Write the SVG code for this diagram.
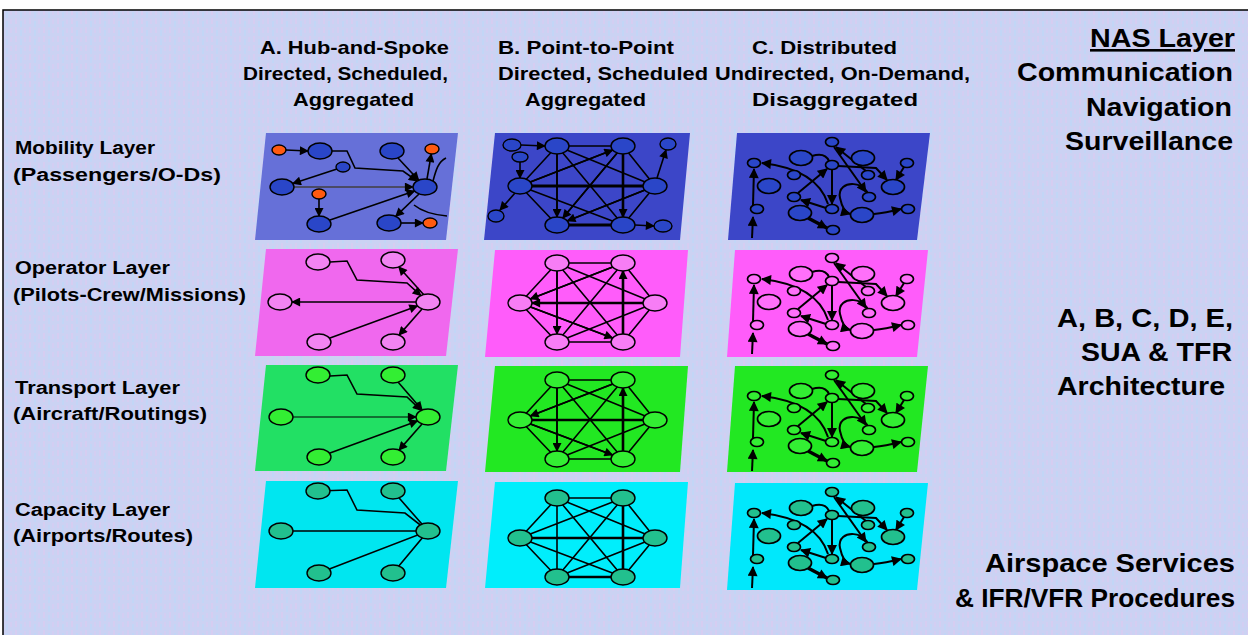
<svg xmlns="http://www.w3.org/2000/svg" xmlns:xlink="http://www.w3.org/1999/xlink" width="1248" height="635" viewBox="0 0 1248 635">
<style>
.hdr{font-family:"Liberation Sans",Arial,sans-serif;font-size:19px;font-weight:bold;fill:#000}
.row{font-family:"Liberation Sans",Arial,sans-serif;font-size:18px;font-weight:bold;fill:#000}
.big{font-family:"Liberation Sans",Arial,sans-serif;font-size:26px;font-weight:bold;fill:#000}
.e{fill:none;stroke:#000;stroke-width:1.6}
.a{fill:none;stroke:#000;stroke-width:1.6;marker-end:url(#ah)}
.ca{fill:none;stroke:#000;stroke-width:2;marker-end:url(#ahc)}
.ce{fill:none;stroke:#000;stroke-width:2}
.n{stroke:#000;stroke-width:1.4}
.cn{stroke:#000;stroke-width:1.7}
</style>
<defs>
<marker id="ah" viewBox="0 0 10 10" refX="9" refY="5" markerWidth="10" markerHeight="9" markerUnits="userSpaceOnUse" orient="auto"><path d="M0,0 L10,5 L0,10 z" fill="#000"/></marker>
<marker id="ahc" viewBox="0 0 10 10" refX="9" refY="5" markerWidth="11" markerHeight="10" markerUnits="userSpaceOnUse" orient="auto"><path d="M0,0 L10,5 L0,10 z" fill="#000"/></marker>
<pattern id="tex" width="14" height="9" patternUnits="userSpaceOnUse">
<rect width="14" height="9" fill="#cbd2f3"/>
<rect x="1" y="0" width="2" height="6" fill="#d6cdf1"/>
<rect x="6" y="3" width="2" height="6" fill="#c2d6f6"/>
<rect x="10" y="1" width="2" height="5" fill="#d3cef2"/>
</pattern>
<g id="k6">
<path class="e" d="M557,146 L623,146 M557,146 L520,186 M557,146 L655,186 M557,146 L557,225 M557,146 L623,225 M623,146 L520,186 M623,146 L655,186 M623,146 L557,225 M623,146 L623,225 M520,186 L655,186 M520,186 L557,225 M520,186 L623,225 M655,186 L557,225 M655,186 L623,225 M557,225 L623,225"/>
</g>
<g id="k6n">
<ellipse class="n" cx="557" cy="146" rx="12" ry="8"/>
<ellipse class="n" cx="623" cy="146" rx="12" ry="8"/>
<ellipse class="n" cx="520" cy="186" rx="12" ry="8"/>
<ellipse class="n" cx="655" cy="186" rx="12" ry="8"/>
<ellipse class="n" cx="557" cy="225" rx="12" ry="8"/>
<ellipse class="n" cx="623" cy="225" rx="12" ry="8"/>
</g>
<g id="cedges">
<path class="ca" d="M752,238 L753,217"/>
<path class="ca" d="M753,205 L754,169"/>
<path class="ca" d="M828,204 C822,185 805,168 762,163"/>
<path class="ce" d="M812,156 Q825,152 829,161"/>
<path class="ca" d="M832,170 L832,204"/>
<path class="ca" d="M798,193 L827,169"/>
<path class="ca" d="M866,171 L836,147"/>
<path class="ca" d="M834,147 L866,192"/>
<path class="ca" d="M838,166 L876,168 L887,180"/>
<path class="ca" d="M904,167 L896,180"/>
<path class="ca" d="M826,208 L801,200"/>
<path class="ca" d="M869,201 C871,180 836,178 840,198 Q843,212 850,214"/>
<path class="ca" d="M874,214 Q885,213 901,209"/>
<path class="ca" d="M808,218 L827,228" style="stroke-width:3.5"/>
</g>
<g id="cnodes">
<ellipse class="cn" cx="801" cy="158" rx="11.5" ry="7.5"/>
<ellipse class="cn" cx="863" cy="158" rx="11.5" ry="7.5"/>
<ellipse class="cn" cx="769" cy="186" rx="11.5" ry="7.5"/>
<ellipse class="cn" cx="893" cy="187" rx="11.5" ry="7.5"/>
<ellipse class="cn" cx="800" cy="213" rx="11.5" ry="7.5"/>
<ellipse class="cn" cx="862" cy="215" rx="11.5" ry="7.5"/>
<ellipse class="cn" cx="832" cy="142" rx="6.5" ry="4.5"/>
<ellipse class="cn" cx="754" cy="163" rx="6.5" ry="4.5"/>
<ellipse class="cn" cx="832" cy="165" rx="6.5" ry="4.5"/>
<ellipse class="cn" cx="907" cy="163" rx="6.5" ry="4.5"/>
<ellipse class="cn" cx="794" cy="175" rx="6.5" ry="4.5"/>
<ellipse class="cn" cx="868" cy="175" rx="6.5" ry="4.5"/>
<ellipse class="cn" cx="869" cy="197" rx="6.5" ry="4.5"/>
<ellipse class="cn" cx="794" cy="197" rx="6.5" ry="4.5"/>
<ellipse class="cn" cx="757" cy="209" rx="6.5" ry="4.5"/>
<ellipse class="cn" cx="832" cy="209" rx="6.5" ry="4.5"/>
<ellipse class="cn" cx="908" cy="209" rx="6.5" ry="4.5"/>
<ellipse class="cn" cx="833" cy="230" rx="6.5" ry="4.5"/>
</g>
</defs>

<rect width="1248" height="635" fill="#ffffff"/>
<rect x="3" y="10" width="1245" height="625" fill="url(#tex)"/>
<path d="M3,635 L3,10 L1248,10" fill="none" stroke="#000" stroke-width="1.5"/>

<g id="headers">
<text class="hdr" x="260" y="54" textLength="189" lengthAdjust="spacingAndGlyphs">A. Hub-and-Spoke</text>
<text class="hdr" x="243" y="80" textLength="205" lengthAdjust="spacingAndGlyphs">Directed, Scheduled,</text>
<text class="hdr" x="293" y="106" textLength="121" lengthAdjust="spacingAndGlyphs">Aggregated</text>
<text class="hdr" x="498" y="54" textLength="176" lengthAdjust="spacingAndGlyphs">B. Point-to-Point</text>
<text class="hdr" x="498" y="80" textLength="210" lengthAdjust="spacingAndGlyphs">Directed, Scheduled</text>
<text class="hdr" x="525" y="106" textLength="121" lengthAdjust="spacingAndGlyphs">Aggregated</text>
<text class="hdr" x="752" y="54" textLength="145" lengthAdjust="spacingAndGlyphs">C. Distributed</text>
<text class="hdr" x="715" y="80" textLength="255" lengthAdjust="spacingAndGlyphs">Undirected, On-Demand,</text>
<text class="hdr" x="752" y="106" textLength="166" lengthAdjust="spacingAndGlyphs">Disaggregated</text>
</g>

<g id="row-labels">
<text class="row" x="15" y="154" textLength="140" lengthAdjust="spacingAndGlyphs">Mobility Layer</text>
<text class="row" x="13" y="181" textLength="208" lengthAdjust="spacingAndGlyphs">(Passengers/O-Ds)</text>
<text class="row" x="15" y="274" textLength="155" lengthAdjust="spacingAndGlyphs">Operator Layer</text>
<text class="row" x="13" y="301" textLength="233" lengthAdjust="spacingAndGlyphs">(Pilots-Crew/Missions)</text>
<text class="row" x="15" y="394" textLength="165" lengthAdjust="spacingAndGlyphs">Transport Layer</text>
<text class="row" x="13" y="420" textLength="194" lengthAdjust="spacingAndGlyphs">(Aircraft/Routings)</text>
<text class="row" x="15" y="516" textLength="155" lengthAdjust="spacingAndGlyphs">Capacity Layer</text>
<text class="row" x="13" y="542" textLength="180" lengthAdjust="spacingAndGlyphs">(Airports/Routes)</text>
</g>

<g id="right-labels">
<text class="big" x="1090" y="47" textLength="145" lengthAdjust="spacingAndGlyphs" text-decoration="underline">NAS Layer</text>
<text class="big" x="1017" y="81" textLength="216" lengthAdjust="spacingAndGlyphs">Communication</text>
<text class="big" x="1086" y="116" textLength="146" lengthAdjust="spacingAndGlyphs">Navigation</text>
<text class="big" x="1065" y="150" textLength="168" lengthAdjust="spacingAndGlyphs">Surveillance</text>
<text class="big" x="1057" y="327" textLength="176" lengthAdjust="spacingAndGlyphs">A, B, C, D, E,</text>
<text class="big" x="1081" y="361" textLength="151" lengthAdjust="spacingAndGlyphs">SUA &amp; TFR</text>
<text class="big" x="1057" y="395" textLength="168" lengthAdjust="spacingAndGlyphs">Architecture</text>
<text class="big" x="985" y="572" textLength="250" lengthAdjust="spacingAndGlyphs">Airspace Services</text>
<text class="big" x="955" y="607" textLength="280" lengthAdjust="spacingAndGlyphs">&amp; IFR/VFR Procedures</text>
</g>

<!-- Mobility row -->
<g id="mobility-A">
<polygon points="266,133 458,133 446,240 255,240" fill="#6670d8"/>
<path class="a" d="M286,150 L308,151"/>
<path class="a" d="M332,151 L347,151 L355,168 L403,171 L417,181"/>
<path class="a" d="M398,158 L418.7,180.2"/>
<path class="a" d="M427,179 L431.3,154"/>
<path class="e" d="M433,181 C436,170 438,162 446,158"/>
<path class="a" d="M337,169 L292.8,183.5"/>
<path d="M294,187 L413,187" fill="none" stroke="#4a4a66" stroke-width="2" marker-end="url(#ah)"/>
<path class="a" d="M319,199 L319,216"/>
<path class="a" d="M330,220 L414.6,191"/>
<path class="a" d="M419,194 L395.7,216.3"/>
<path class="a" d="M401,223 L423,223"/>
<path class="e" d="M414,205 Q425,214 447,216"/>
<g fill="#2a46c8">
<ellipse class="n" cx="320" cy="151" rx="12" ry="8"/>
<ellipse class="n" cx="392" cy="151" rx="12" ry="8"/>
<ellipse class="n" cx="343" cy="167" rx="7" ry="5"/>
<ellipse class="n" cx="282" cy="187" rx="12" ry="8"/>
<ellipse class="n" cx="425" cy="187" rx="12" ry="8"/>
<ellipse class="n" cx="319" cy="224" rx="12" ry="8"/>
<ellipse class="n" cx="389" cy="223" rx="12" ry="8"/>
</g>
<g fill="#ff5a10">
<ellipse class="n" cx="279" cy="150" rx="7" ry="5"/>
<ellipse class="n" cx="432" cy="149" rx="7" ry="5"/>
<ellipse class="n" cx="319" cy="194" rx="7" ry="5"/>
<ellipse class="n" cx="430" cy="223" rx="7" ry="5"/>
</g>
</g>

<g id="mobility-B">
<polygon points="495,133 690,133 680,240 484,240" fill="#3c46c8"/>
<use xlink:href="#k6"/>
<path d="M557,225 L623,225 M520,186 L655,186" stroke="#000" stroke-width="3"/>
<path class="a" d="M521,145 L545,146"/>
<path class="a" d="M520,162 L520,178"/>
<path class="a" d="M557,154 L557,217"/>
<path class="a" d="M623,154 L623,217" style="stroke-width:2.6"/>
<path class="a" d="M623,146 L562.8,218"/>
<path class="a" d="M655,186 L567.3,220.9"/>
<path class="a" d="M520,186 L612.6,150"/>
<path class="a" d="M657,178 L666,150"/>
<path class="a" d="M515,193 L500,210"/>
<path class="a" d="M635,225 L654,226"/>
<use xlink:href="#k6n" fill="#2a46c8"/>
<g fill="#2a46c8">
<ellipse class="n" cx="512" cy="145" rx="9" ry="6"/>
<ellipse class="n" cx="668" cy="144" rx="8" ry="6"/>
<ellipse class="n" cx="520" cy="157" rx="8" ry="5"/>
<ellipse class="n" cx="496" cy="216" rx="8" ry="6"/>
<ellipse class="n" cx="663" cy="226" rx="9" ry="6"/>
</g>
</g>

<g id="mobility-C">
<polygon points="737,133 930,133 917,240 728,240" fill="#3c46c8"/>
<use xlink:href="#cedges"/>
<use xlink:href="#cnodes" fill="#2a46c8"/>
</g>

<!-- Operator row -->
<g id="operator-A">
<polygon points="266,249 458,249 446,356 255,356" fill="#f068ee"/>
<path class="a" d="M330,262 L347,261 L357,280 L407,283 L420.9,295.6"/>
<path class="a" d="M424,295 L398.8,267"/>
<path class="a" d="M416,302 L292,302"/>
<path class="a" d="M330,338 L417.5,305.9"/>
<path class="a" d="M422,309 L399,335.1"/>
<g fill="#f284f2">
<ellipse class="n" cx="318" cy="262" rx="12" ry="8"/>
<ellipse class="n" cx="393" cy="260" rx="12" ry="8"/>
<ellipse class="n" cx="280" cy="302" rx="12" ry="8"/>
<ellipse class="n" cx="428" cy="302" rx="12" ry="8"/>
<ellipse class="n" cx="319" cy="342" rx="12" ry="8"/>
<ellipse class="n" cx="393" cy="342" rx="12" ry="8"/>
</g>
</g>

<g id="operator-B">
<polygon points="495,250 688,250 680,357 485,357" fill="#ff5cfa"/>
<g transform="translate(0,117)">
<use xlink:href="#k6"/>
<path d="M520,186 L655,186 M623,146 L623,225" stroke="#000" stroke-width="2.6"/>
<path class="a" d="M623,146 L530.4,182"/>
<path class="a" d="M655,186 L532,186"/>
<path class="a" d="M557,154 L557,217"/>
<path class="a" d="M520,186 L612.6,221"/>
<path class="a" d="M623,217 L623,154"/>
<use xlink:href="#k6n" fill="#f77df5"/>
</g>
</g>

<g id="operator-C">
<polygon points="735,250 928,250 917,357 727,357" fill="#ff5cfa"/>
<g transform="translate(0,116)">
<use xlink:href="#cedges"/>
<use xlink:href="#cnodes" fill="#ff70fa"/>
</g>
</g>

<!-- Transport row -->
<g id="transport-A">
<polygon points="266,365 458,365 446,471 255,471" fill="#22e064"/>
<path class="a" d="M330,376 L347,375 L357,394 L407,397 L421.1,410.4"/>
<path class="a" d="M398,382 L422.2,410"/>
<path d="M293,417 L416,417" fill="none" stroke="#000" stroke-width="1.2" marker-end="url(#ah)"/>
<path class="a" d="M330,453 L417.5,420.9"/>
<path class="a" d="M422,424 L399,450.1"/>
<g fill="#33ee33">
<ellipse class="n" cx="318" cy="375" rx="12" ry="8"/>
<ellipse class="n" cx="393" cy="375" rx="12" ry="8"/>
<ellipse class="n" cx="281" cy="417" rx="12" ry="8"/>
<ellipse class="n" cx="428" cy="417" rx="12" ry="8"/>
<ellipse class="n" cx="319" cy="457" rx="12" ry="8"/>
<ellipse class="n" cx="393" cy="457" rx="12" ry="8"/>
</g>
</g>

<g id="transport-B">
<polygon points="495,366 688,366 680,472 485,472" fill="#22e822"/>
<g transform="translate(0,234)">
<use xlink:href="#k6"/>
<path d="M520,186 L655,186 M623,146 L623,225" stroke="#000" stroke-width="2.6"/>
<path class="a" d="M623,146 L530.4,182"/>
<path class="a" d="M557,154 L557,217"/>
<path class="a" d="M520,186 L612.6,221"/>
<path class="a" d="M623,217 L623,154"/>
<use xlink:href="#k6n" fill="#33ee33"/>
</g>
</g>

<g id="transport-C">
<polygon points="735,366 928,366 917,472 727,472" fill="#22e822"/>
<g transform="translate(0,233)">
<use xlink:href="#cedges"/>
<use xlink:href="#cnodes" fill="#33ee33"/>
</g>
</g>

<!-- Capacity row -->
<g id="capacity-A">
<polygon points="266,481 458,481 446,588 255,588" fill="#00e6f0"/>
<path class="e" d="M318,491 L347,490 L357,510 L405,513 L428,531"/>
<path class="e" d="M393,491 L428,531 M281,531 L428,531 M319,573 L428,531 L393,573"/>
<g fill="#22c08e">
<ellipse class="n" cx="318" cy="491" rx="12" ry="8"/>
<ellipse class="n" cx="393" cy="491" rx="12" ry="8"/>
<ellipse class="n" cx="281" cy="531" rx="12" ry="8"/>
<ellipse class="n" cx="428" cy="531" rx="12" ry="8"/>
<ellipse class="n" cx="319" cy="573" rx="12" ry="8"/>
<ellipse class="n" cx="393" cy="573" rx="12" ry="8"/>
</g>
</g>

<g id="capacity-B">
<polygon points="495,482 688,482 680,588 485,588" fill="#00eefc"/>
<g transform="translate(0,352)">
<use xlink:href="#k6"/>
<path d="M520,186 L655,186 M623,146 L623,225 M557,225 L623,225" stroke="#000" stroke-width="2.6"/>
<use xlink:href="#k6n" fill="#22c08e"/>
</g>
</g>

<g id="capacity-C">
<polygon points="735,483 928,483 917,590 727,590" fill="#00e8fc"/>
<g transform="translate(0,350)">
<use xlink:href="#cedges"/>
<use xlink:href="#cnodes" fill="#22c08e"/>
</g>
</g>
</svg>
